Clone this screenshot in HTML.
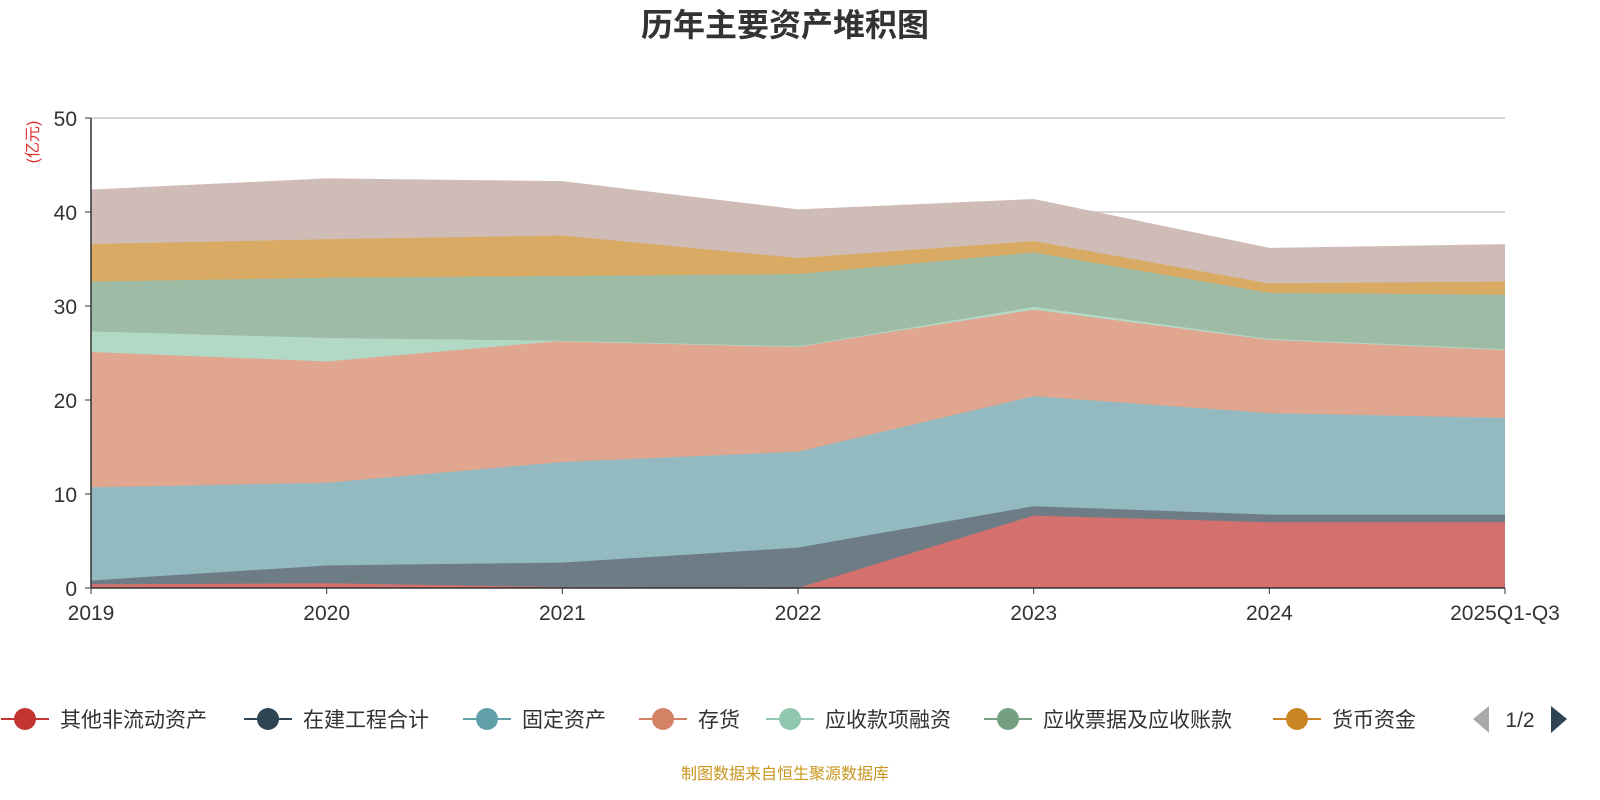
<!DOCTYPE html>
<html><head><meta charset="utf-8">
<style>
html,body{margin:0;padding:0;background:#fff;overflow:hidden;width:1600px;height:800px;font-family:"Liberation Sans","Noto Sans CJK SC",sans-serif;}
svg{display:block;}
svg text{font-family:"Liberation Sans","Noto Sans CJK SC",sans-serif;}
</style></head>
<body>
<svg id="c" width="1600" height="800" viewBox="0 0 1600 800" xmlns="http://www.w3.org/2000/svg">
<text x="785" y="36" text-anchor="middle" font-size="32" font-weight="bold" fill="#333">历年主要资产堆积图</text>
<text transform="translate(38,142) rotate(-90)" text-anchor="middle" font-size="16" fill="#e03030">(亿元)</text>
<g id="grid"></g><g id="areas"></g><g id="axes"></g><g id="legend"></g>
<text x="785" y="779" text-anchor="middle" font-size="16" fill="#c8961e">制图数据来自恒生聚源数据库</text>
</svg>
<script>
const categories=["2019","2020","2021","2022","2023","2024","2025Q1-Q3"];
const seriesNames=["其他非流动资产","在建工程合计","固定资产","存货","应收款项融资","应收票据及应收账款","货币资金","其他"];
const otherNonCurrent=[0.4,0.5,0.1,0,7.7,7.0,7.0];
const construction=[0.4,1.9,2.6,4.3,1.0,0.8,0.8];
const fixedAssets=[9.9,8.8,10.7,10.2,11.7,10.8,10.3];
const inventory=[14.4,12.9,12.9,11.2,9.2,7.8,7.2];
const receivableFinancing=[2.2,2.5,0,0,0.3,0.1,0.1];
const receivables=[5.3,6.4,6.9,7.7,5.8,4.9,5.8];
const cash=[4.0,4.1,4.3,1.7,1.2,1.0,1.4];
const others=[5.7,6.4,5.7,5.1,4.4,3.7,3.9];
const yTicks=[0,10,20,30,40,50];
const series=[otherNonCurrent,construction,fixedAssets,inventory,receivableFinancing,receivables,cash,others];
const lineColors=["#c23531","#2f4554","#61a0a8","#d48265","#91c7ae","#749f83","#ca8622","#bda29a"];
const fillColors=["#d4716e","#6e7c86","#92bac0","#e0a690","#b2d8c6","#9ebba6","#d9aa64","#cfbcb6"];
const X0=91,X1=1505,Y0=588,Y1=118;
const x=i=>X0+i*(X1-X0)/(categories.length-1);
const y=v=>Y0-v*(Y0-Y1)/50;
const NS="http://www.w3.org/2000/svg";
function mk(t,a,p){const e=document.createElementNS(NS,t);for(const k in a)e.setAttribute(k,a[k]);p.appendChild(e);return e;}
const grid=document.getElementById('grid'),axes=document.getElementById('axes'),areas=document.getElementById('areas'),legend=document.getElementById('legend');
yTicks.forEach(t=>{
 if(t>0){const g=mk('line',{x1:X0,x2:X1,y1:y(t),y2:y(t),stroke:'#c8c8c8','stroke-width':1.5},grid);
 
 }
 const l=mk('text',{x:X0-14,y:y(t)+8,'text-anchor':'end','font-size':21,fill:'#333'},axes);l.textContent=t;
 
 
 mk('line',{x1:X0-6,x2:X0,y1:y(t),y2:y(t),stroke:'#333'},axes);
});
let base=categories.map(()=>0);
series.forEach((s,si)=>{
 const top=base.map((b,i)=>b+s[i]);
 let d='M'+top.map((v,i)=>x(i)+','+y(v)).join('L');
 for(let i=categories.length-1;i>=0;i--)d+='L'+x(i)+','+y(base[i]);
 const p=mk('path',{d:d+'Z',fill:fillColors[si],stroke:'none'},areas);
 
 
 const ln=mk('polyline',{points:top.map((v,i)=>x(i)+','+y(v)).join(' '),fill:'none',stroke:fillColors[si],'stroke-width':1.5},areas);
 
 
 base=top;
});
mk('line',{x1:X0,x2:X0,y1:Y1,y2:Y0,stroke:'#333','stroke-width':1.5},axes);
mk('line',{x1:X0,x2:X1,y1:Y0,y2:Y0,stroke:'#333','stroke-width':1.5},axes);
categories.forEach((c,i)=>{
 mk('line',{x1:x(i),x2:x(i),y1:Y0,y2:Y0+6,stroke:'#333'},axes);
 const t=mk('text',{x:x(i),y:620,'text-anchor':'middle','font-size':21,fill:'#333'},axes);t.textContent=c;
 
 
});
const lx=[25,268,487,663,790,1008,1297];
lx.forEach((cx,i)=>{
 const g=mk('g',{},legend);
 
 
 mk('line',{x1:cx-24,x2:cx+24,y1:719,y2:719,stroke:lineColors[i],'stroke-width':2},g);
 mk('circle',{cx:cx,cy:719,r:11,fill:lineColors[i]},g);
 const t=mk('text',{x:cx+35,y:727,'font-size':21,fill:'#333'},g);t.textContent=seriesNames[i];
});
const pv=mk('path',{d:'M1489,706L1489,733L1473,719Z',fill:'#aaa'},legend);


const pt=mk('text',{x:1520,y:727,'text-anchor':'middle','font-size':21,fill:'#333'},legend);pt.textContent='1/2';


const nx=mk('path',{d:'M1551,706L1551,733L1567,719Z',fill:'#2f4554'},legend);


</script>
</body></html>
